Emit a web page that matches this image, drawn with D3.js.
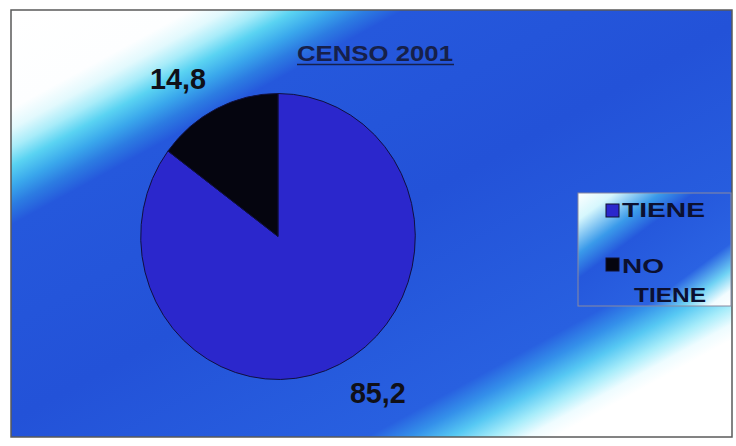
<!DOCTYPE html>
<html>
<head>
<meta charset="utf-8">
<script src="https://cdn.jsdelivr.net/npm/d3@7"></script>
<style>
  html, body { margin: 0; padding: 0; background: #fff; }
  svg { display: block; }
  text { font-family: "Liberation Sans", Arial, sans-serif; font-weight: bold; }
</style>
</head>
<body>
<svg id="chart" width="736" height="446"></svg>
<script>
// data
const categories = ['TIENE', 'NO TIENE'];
const values = [85.2, 14.8];
const valueLabels = ['85,2', '14,8'];
const sliceColors = ['#2b27cc', '#05050f'];
const title = 'CENSO 2001';

const svg = d3.select('#chart');
const defs = svg.append('defs');

// background: white corners, cyan bands, blue middle (diagonal)
const bg = defs.append('linearGradient')
  .attr('id', 'bgGrad')
  .attr('gradientUnits', 'userSpaceOnUse')
  .attr('x1', 11).attr('y1', 10)
  .attr('x2', 357).attr('y2', 642);
[[0, '#ffffff'], [0.12, '#fdfeff'], [0.145, '#e2f9fd'], [0.168, '#a8ecf9'],
 [0.19, '#5ad3f2'], [0.215, '#3aa8ec'], [0.238, '#2c7ce2'], [0.262, '#2558dc'],
 [0.5, '#2352d8'], [0.757, '#2860e0'], [0.785, '#3490ea'], [0.813, '#56c8f3'],
 [0.84, '#a6ecfa'], [0.863, '#eefcff'], [0.882, '#ffffff'], [1, '#ffffff']]
  .forEach(([o, c]) => bg.append('stop').attr('offset', o).attr('stop-color', c));

const lg = defs.append('linearGradient')
  .attr('id', 'legGrad')
  .attr('x1', 0).attr('y1', 0).attr('x2', 1).attr('y2', 1);
[[0, '#ffffff'], [0.12, '#d6f7fd'], [0.27, '#3a9aea'], [0.38, '#2558dc'],
 [0.72, '#2a62e2'], [0.84, '#6fd2f4'], [0.93, '#f2fcff'], [1, '#ffffff']]
  .forEach(([o, c]) => lg.append('stop').attr('offset', o).attr('stop-color', c));

// plot frame
svg.append('rect')
  .attr('x', 11).attr('y', 10)
  .attr('width', 721).attr('height', 427)
  .attr('fill', 'url(#bgGrad)')
  .attr('stroke', '#5a5a5a')
  .attr('stroke-width', 1.5);

// title
svg.append('text')
  .attr('x', 297).attr('y', 61)
  .attr('font-size', 22)
  .attr('fill', '#16204a')
  .attr('textLength', 156)
  .attr('lengthAdjust', 'spacingAndGlyphs')
  .text(title);
svg.append('line')
  .attr('x1', 297).attr('x2', 454)
  .attr('y1', 64.5).attr('y2', 64.5)
  .attr('stroke', '#16204a').attr('stroke-width', 1.5);

// pie (slightly narrower than tall, as in the scan)
const cx = 278, cy = 236.5, r = 143, sx = 0.96;
const pie = d3.pie().sort(null).value(d => d.v);
const arcs = pie(values.map((v, i) => ({ v, i })));
const arc = d3.arc().innerRadius(0).outerRadius(r);
const labelArc = d3.arc().innerRadius(167).outerRadius(167);

svg.append('g')
  .attr('transform', `translate(${cx},${cy}) scale(${sx},1)`)
  .selectAll('path')
  .data(arcs)
  .join('path')
  .attr('d', arc)
  .attr('fill', d => sliceColors[d.data.i])
  .attr('stroke', '#101040')
  .attr('stroke-width', 1)
  .attr('vector-effect', 'non-scaling-stroke');

// value labels sit just outside the rim
svg.append('g').selectAll('text')
  .data(arcs)
  .join('text')
  .attr('x', d => cx + labelArc.centroid(d)[0] * sx)
  .attr('y', d => cy + labelArc.centroid(d)[1] + (labelArc.centroid(d)[1] > 0 ? 17 : 2))
  .attr('text-anchor', d => labelArc.centroid(d)[0] < 0 ? 'end' : 'start')
  .attr('font-size', 29)
  .attr('fill', '#101018')
  .attr('textLength', 56)
  .attr('lengthAdjust', 'spacingAndGlyphs')
  .text(d => valueLabels[d.data.i]);

// legend
const leg = svg.append('g').attr('transform', 'translate(578,193)');
leg.append('rect')
  .attr('width', 153).attr('height', 113)
  .attr('fill', 'url(#legGrad)')
  .attr('stroke', '#8a8aa0').attr('stroke-width', 1);

const legItems = leg.selectAll('g.item')
  .data(categories)
  .join('g')
  .attr('class', 'item')
  .attr('transform', (d, i) => `translate(28,${11 + i * 54})`);
legItems.append('rect')
  .attr('width', 13).attr('height', 13)
  .attr('fill', (d, i) => sliceColors[i])
  .attr('stroke', '#101030').attr('stroke-width', 1);
legItems.each(function (d) {
  const words = d.split(' ');
  const g = d3.select(this);
  const line = (x, y, len, t) => g.append('text')
    .attr('x', x).attr('y', y)
    .attr('font-size', 21).attr('fill', '#0c1030')
    .attr('textLength', len).attr('lengthAdjust', 'spacingAndGlyphs')
    .text(t);
  if (words.length === 1) {
    line(16, 13, 83, words[0]);
  } else {
    line(16, 15, 42, words[0]);
    line(28, 44, 72, words[1]);
  }
});
</script>
</body>
</html>
